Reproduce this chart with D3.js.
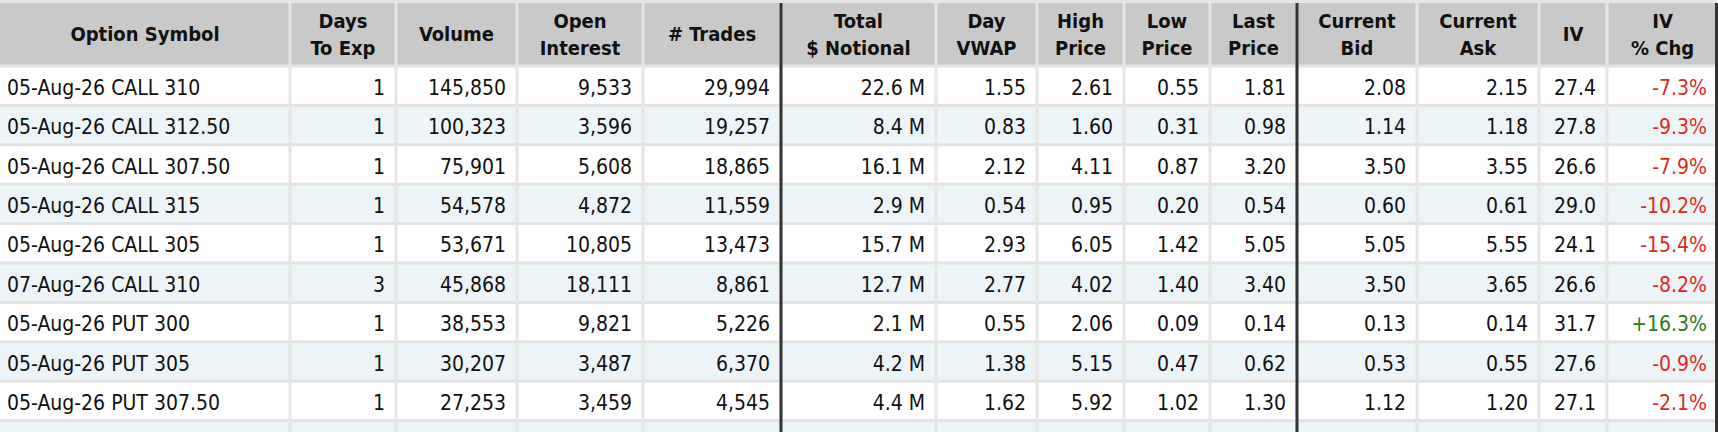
<!DOCTYPE html>
<html>
<head>
    <meta charset="utf-8">
    <title>Most Active Options</title>
    <script src="https://d3js.org/d3.v7.min.js"></script>
    <style>
        body {
            margin: 0;
            background: #fff;
        }
        svg text {
            font-family: "DejaVu Sans Condensed", "DejaVu Sans", sans-serif;
            font-stretch: condensed;
        }
        .cell {
            font-size: 21px;
            fill: #111;
        }
        .head {
            font-size: 20px;
            font-weight: bold;
            fill: #111;
        }
    </style>
</head>
<body>
    <div id="chart"></div>
    <script>
        const symbols = ["05-Aug-26 CALL 310", "05-Aug-26 CALL 312.50", "05-Aug-26 CALL 307.50", "05-Aug-26 CALL 315",
            "05-Aug-26 CALL 305", "07-Aug-26 CALL 310", "05-Aug-26 PUT 300", "05-Aug-26 PUT 305", "05-Aug-26 PUT 307.50"];
        const daysToExp = [1, 1, 1, 1, 1, 3, 1, 1, 1];
        const volume = [145850, 100323, 75901, 54578, 53671, 45868, 38553, 30207, 27253];
        const openInterest = [9533, 3596, 5608, 4872, 10805, 18111, 9821, 3487, 3459];
        const trades = [29994, 19257, 18865, 11559, 13473, 8861, 5226, 6370, 4545];
        const notionalM = [22.6, 8.4, 16.1, 2.9, 15.7, 12.7, 2.1, 4.2, 4.4];
        const vwap = [1.55, 0.83, 2.12, 0.54, 2.93, 2.77, 0.55, 1.38, 1.62];
        const highPrice = [2.61, 1.60, 4.11, 0.95, 6.05, 4.02, 2.06, 5.15, 5.92];
        const lowPrice = [0.55, 0.31, 0.87, 0.20, 1.42, 1.40, 0.09, 0.47, 1.02];
        const lastPrice = [1.81, 0.98, 3.20, 0.54, 5.05, 3.40, 0.14, 0.62, 1.30];
        const bid = [2.08, 1.14, 3.50, 0.60, 5.05, 3.50, 0.13, 0.53, 1.12];
        const ask = [2.15, 1.18, 3.55, 0.61, 5.55, 3.65, 0.14, 0.55, 1.20];
        const iv = [27.4, 27.8, 26.6, 29.0, 24.1, 26.6, 31.7, 27.6, 27.1];
        const ivChg = [-7.3, -9.3, -7.9, -10.2, -15.4, -8.2, 16.3, -0.9, -2.1];
        const headers = [["Option Symbol"], ["Days", "To Exp"], ["Volume"], ["Open", "Interest"], ["# Trades"],
            ["Total", "$ Notional"], ["Day", "VWAP"], ["High", "Price"], ["Low", "Price"], ["Last", "Price"],
            ["Current", "Bid"], ["Current", "Ask"], ["IV"], ["IV", "% Chg"]];

        const width = 1718, height = 432;
        const headH = 66, rowH = 39.4;
        const colWidths = [290, 106, 121, 126, 138, 155, 101, 87, 86, 87, 120, 122, 68, 111];
        const darkAfter = [4, 9, 13]; // heavy rules after these columns

        const fmtInt = d3.format(",");
        const fmt2 = d3.format(".2f");
        const fmt1 = d3.format(".1f");
        const pct = v => (v > 0 ? "+" : "-") + fmt1(Math.abs(v)) + "%";
        const columns = [
            i => symbols[i],
            i => daysToExp[i],
            i => fmtInt(volume[i]),
            i => fmtInt(openInterest[i]),
            i => fmtInt(trades[i]),
            i => fmt1(notionalM[i]) + " M",
            i => fmt2(vwap[i]),
            i => fmt2(highPrice[i]),
            i => fmt2(lowPrice[i]),
            i => fmt2(lastPrice[i]),
            i => fmt2(bid[i]),
            i => fmt2(ask[i]),
            i => fmt1(iv[i]),
            i => pct(ivChg[i])
        ];

        const edges = [0];
        colWidths.forEach(w => edges.push(edges[edges.length - 1] + w));
        const x = d3.scaleOrdinal().domain(d3.range(colWidths.length)).range(edges.slice(0, -1));
        const nRows = symbols.length + 1; // one more row cut off at the bottom
        const y = d3.scaleBand().domain(d3.range(nRows)).range([headH, headH + nRows * rowH]);

        const svg = d3.select("#chart").append("svg")
            .attr("width", width)
            .attr("height", height);

        // header band
        svg.append("rect").attr("x", 0).attr("y", 0).attr("width", width).attr("height", headH).attr("fill", "#c9c9c9");
        svg.append("rect").attr("x", 0).attr("y", 0).attr("width", width).attr("height", 3).attr("fill", "#e6e6e6");

        // row bands
        svg.selectAll(".band")
            .data(d3.range(nRows))
            .enter().append("rect")
            .attr("x", 0)
            .attr("y", d => y(d))
            .attr("width", width)
            .attr("height", rowH)
            .attr("fill", d => d % 2 ? "#ecf4f7" : "#ffffff");

        // horizontal rules
        svg.selectAll(".hrule")
            .data(d3.range(nRows))
            .enter().append("rect")
            .attr("x", 0)
            .attr("y", d => y(d) - 1.5)
            .attr("width", width)
            .attr("height", 3)
            .attr("fill", "#e3e3e3");

        // light vertical rules
        svg.selectAll(".vrule")
            .data(d3.range(1, colWidths.length))
            .enter().append("rect")
            .attr("x", d => x(d) - 1.5)
            .attr("y", 3)
            .attr("width", 3)
            .attr("height", height)
            .attr("fill", "#e6e6e6");

        // heavy vertical rules
        svg.selectAll(".drule")
            .data(darkAfter)
            .enter().append("rect")
            .attr("x", d => edges[d + 1] - (d === colWidths.length - 1 ? 3 : 1.5))
            .attr("y", 3)
            .attr("width", 3)
            .attr("height", height)
            .attr("fill", "#333");

        // header text
        headers.forEach((lines, c) => {
            const cx = x(c) + colWidths[c] / 2;
            const t = svg.append("text")
                .attr("class", "head")
                .attr("text-anchor", "middle")
                .attr("x", cx);
            lines.forEach((ln, k) => {
                const yy = lines.length === 1 ? 41 : 27.5 + k * 27;
                t.append("tspan").attr("x", cx).attr("y", yy).text(ln);
            });
        });

        // body text
        d3.range(symbols.length).forEach(i => {
            columns.forEach((f, c) => {
                const left = c === 0;
                svg.append("text")
                    .attr("class", "cell")
                    .attr("x", left ? 7 : edges[c + 1] - 11)
                    .attr("y", y(i) + rowH / 2 + 9)
                    .attr("text-anchor", left ? "start" : "end")
                    .style("fill", c === colWidths.length - 1 ? (ivChg[i] > 0 ? "#2b7a1c" : "#da2a20") : null)
                    .text(f(i));
            });
        });
    </script>
</body>
</html>
